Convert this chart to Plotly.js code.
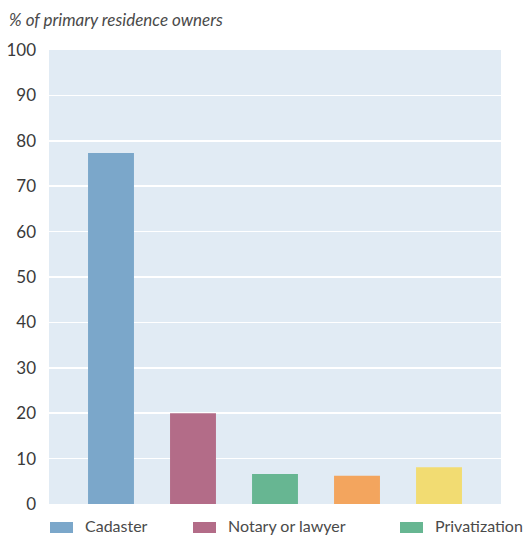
<!DOCTYPE html>
<html>
<head>
<meta charset="utf-8">
<script src="https://cdn.plot.ly/plotly-3.0.1.min.js"></script>
<style>
  html, body { margin: 0; padding: 0; background: #ffffff; }
  #chart { width: 523px; height: 535px; }
</style>
</head>
<body>
<div id="chart"></div>
<script>
// Who holds the records for primary residences
const categories = ["Cadaster", "Notary or lawyer", "Privatization", "Other", "Don't know"];
const shares = [77.3, 20.0, 6.6, 6.2, 8.1];
const colors = ["#7ba7ca", "#b36c88", "#67b692", "#f3a55e", "#f2dc72"];
const legendShown = [true, true, true, false, false];
const yTicks = [0, 10, 20, 30, 40, 50, 60, 70, 80, 90, 100];

const FONT = "Lato, 'Open Sans', sans-serif";
const W = 523, H = 535;
const margin = { l: 49, r: 22, t: 50, b: 31 };
const plotW = W - margin.l - margin.r;
const plotH = H - margin.t - margin.b;

// pixel row (from top) -> paper y
const py = (row) => (H - margin.b - row) / plotH;
// pixel column (from left) -> paper x
const px = (col) => (col - margin.l) / plotW;

// One trace per category so each bar gets its own colour
const traces = categories.map((c, i) => ({
  type: "bar",
  x: [c],
  y: [shares[i]],
  name: c,
  marker: { color: colors[i], line: { width: 0 } },
  width: 0.56,
  hoverinfo: "x+y",
  showlegend: false
}));

// Legend row drawn as wide swatches with labels beneath the plot
const legendX = [50, 193, 400]; // swatch left edges, px
const shapes = [];
const annotations = [];
categories.forEach((c, i) => {
  if (!legendShown[i]) return;
  const li = shapes.length;
  shapes.push({
    type: "rect", xref: "paper", yref: "paper",
    x0: px(legendX[li]), x1: px(legendX[li] + 23),
    y0: py(522), y1: py(533),
    fillcolor: colors[i], line: { width: 0 }
  });
  annotations.push({
    xref: "paper", yref: "paper",
    x: px(legendX[li] + 33), y: py(525),
    xanchor: "left", yanchor: "middle",
    text: c, showarrow: false,
    font: { family: FONT, size: 16, color: "#4a4a4a" }
  });
});

// Axis caption top left
annotations.push({
  xref: "paper", yref: "paper",
  x: px(7), y: py(20),
  xanchor: "left", yanchor: "middle",
  text: "<i>% of primary residence owners</i>", showarrow: false,
  font: { family: FONT, size: 17, color: "#4a4a4a" }
});

const layout = {
  width: W, height: H,
  margin: margin,
  paper_bgcolor: "#ffffff",
  plot_bgcolor: "#e1ebf4",
  barmode: "group",
  showlegend: false,
  font: { family: FONT, size: 16, color: "#3a3a3a" },
  xaxis: {
    type: "category",
    range: [-0.756, 4.756],
    showticklabels: false,
    showgrid: false, zeroline: false, showline: false, ticks: ""
  },
  yaxis: {
    range: [0, 100],
    tickvals: yTicks,
    ticktext: yTicks.map(String),
    showgrid: true, gridcolor: "#ffffff", gridwidth: 1.5,
    zeroline: false, showline: false, ticks: "",
    ticklabelstandoff: 12,
    tickfont: { family: FONT, size: 17, color: "#3a3a3a" }
  },
  shapes: shapes,
  annotations: annotations
};

Plotly.newPlot("chart", traces, layout, { displayModeBar: false, staticPlot: true });
</script>
</body>
</html>
